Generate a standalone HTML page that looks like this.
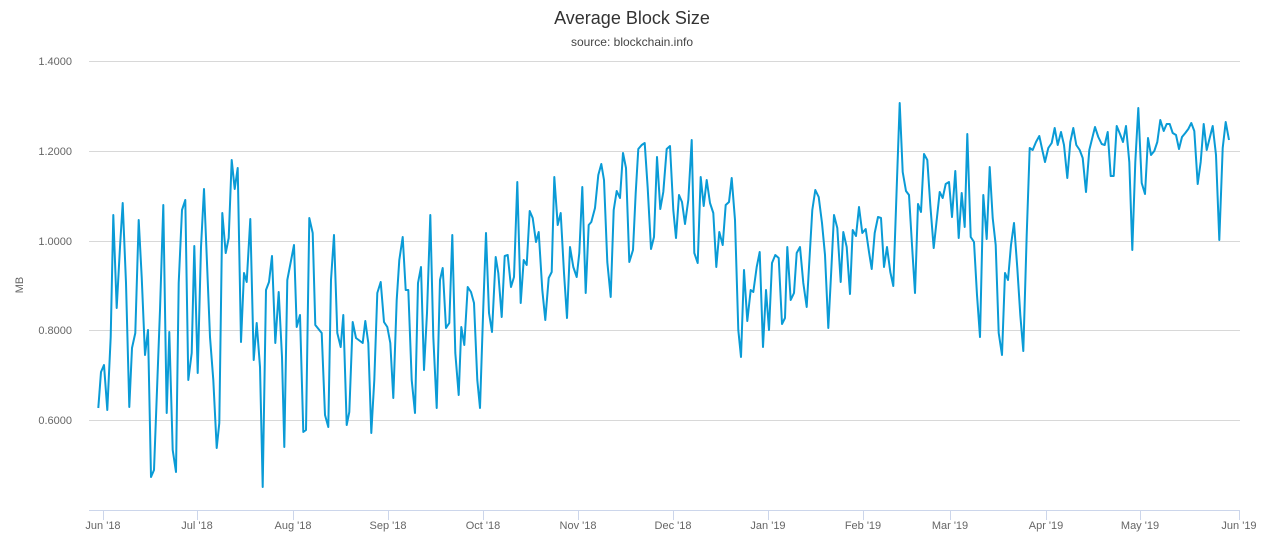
<!DOCTYPE html>
<html><head><meta charset="utf-8"><style>
body{margin:0;background:#fff;}
svg{display:block;font-family:"Liberation Sans",sans-serif;}
</style></head><body>
<svg width="1265" height="550" viewBox="0 0 1265 550">
<text x="632" y="24" text-anchor="middle" font-size="18" fill="#333">Average Block Size</text>
<text x="632" y="46" text-anchor="middle" font-size="12" fill="#444">source: blockchain.info</text>
<g stroke="#d8d8d8" stroke-width="1">
<line x1="89" y1="61.5" x2="1240" y2="61.5"/>
<line x1="89" y1="151.5" x2="1240" y2="151.5"/>
<line x1="89" y1="241.5" x2="1240" y2="241.5"/>
<line x1="89" y1="330.5" x2="1240" y2="330.5"/>
<line x1="89" y1="420.5" x2="1240" y2="420.5"/>
</g>
<line x1="89" y1="510.5" x2="1240" y2="510.5" stroke="#ccd6eb"/>
<g stroke="#ccd6eb">
<line x1="103.5" y1="510" x2="103.5" y2="520"/><line x1="197.5" y1="510" x2="197.5" y2="520"/>
<line x1="293.5" y1="510" x2="293.5" y2="520"/><line x1="388.5" y1="510" x2="388.5" y2="520"/>
<line x1="483.5" y1="510" x2="483.5" y2="520"/><line x1="578.5" y1="510" x2="578.5" y2="520"/>
<line x1="673.5" y1="510" x2="673.5" y2="520"/><line x1="768.5" y1="510" x2="768.5" y2="520"/>
<line x1="863.5" y1="510" x2="863.5" y2="520"/><line x1="950.5" y1="510" x2="950.5" y2="520"/>
<line x1="1046.5" y1="510" x2="1046.5" y2="520"/><line x1="1140.5" y1="510" x2="1140.5" y2="520"/>
<line x1="1239.5" y1="510" x2="1239.5" y2="520"/>
</g>
<g font-size="11" fill="#666" text-anchor="end">
<text x="72" y="65">1.4000</text><text x="72" y="155">1.2000</text><text x="72" y="245">1.0000</text>
<text x="72" y="334">0.8000</text><text x="72" y="424">0.6000</text>
</g>
<text x="23" y="285" font-size="11" fill="#666" text-anchor="middle" transform="rotate(-90 23 285)">MB</text>
<g font-size="11" fill="#666" text-anchor="middle">
<text x="103" y="529">Jun '18</text><text x="197" y="529">Jul '18</text><text x="293" y="529">Aug '18</text>
<text x="388" y="529">Sep '18</text><text x="483" y="529">Oct '18</text><text x="578" y="529">Nov '18</text>
<text x="673" y="529">Dec '18</text><text x="768" y="529">Jan '19</text><text x="863" y="529">Feb '19</text>
<text x="950" y="529">Mar '19</text><text x="1046" y="529">Apr '19</text><text x="1140" y="529">May '19</text>
<text x="1239" y="529">Jun '19</text>
</g>
<polyline fill="none" stroke="#0a9bd6" stroke-width="2" stroke-linejoin="round" points="
98.3,408 101,372 104,365 107.3,410 110.7,337 113.3,215 116.7,308 120,247 122.7,203 126,283 129.3,407 132,348 135.3,333 138.7,220 141.7,277 145,355 148,330 151,477 154,470 160,310 163.3,205 166.7,413 169.3,332 172.7,450 176,472 178.7,283 182,210 185.3,200 188.3,380 191.7,353 194.3,246 197.7,373 201,247 204,189 210,337 213.3,380 216.7,448 219.3,423 222.3,213 225.7,253 228.7,238 231.7,160 234.7,189 237.7,168 241,342 244,273 246.7,282 250.3,219 253.7,360 256.7,323 260,367 262.7,487 266,290 269,282 272,256 275.3,343 278.7,292 282,357 284.3,447
287.3,280 294,245 296.7,327 300,315 303.3,432 306,430 309.3,218 312.7,233 315.3,325 321.7,333 325,415 328.3,427 331,280 334,235 337.3,333 340.7,347 343.3,315 346.7,425 349.3,412 352.7,322 356,338 362.7,343 365.3,321 368.3,343 371.3,433 374.3,380 377.3,293 380.7,282 384,322 387.3,327 390.3,343 393.3,398 396.7,300 399.3,260 402.7,237 405.7,290 408.3,290 411.7,380 415,413 418,283 421,267 424,370 427,313 430.3,215 433.3,337 436.7,408 440,280 442.7,268 446,328 449.3,323 452.3,235 455.3,353 458.7,395 461.3,327 464.3,345 467.7,287 471,292 474,303
477.3,380 480,408 483.3,307 486,233 489,313 492,332 495.7,257 498.3,273 501.7,317 504.7,256 507.7,255 511,287 514,277 517.3,182 520.7,303 523.7,260 526.7,265 529.7,211 532.7,218 536,242 538.7,232 542.3,290 545.3,320 548.7,278 551.7,272 554.3,177 557.7,225 560.7,213 564,273 567,318 570,247 573.3,267 576.7,277 579.3,253 582.3,187 585.7,293 588.7,225 591.3,222 595,208 598.3,175 601.3,164 604,180 607.3,262 610.7,297 613.7,210 616.7,191 620,198 623,153 626,168 629.3,262 633,250 635.7,193 638.3,149 641.7,145 644.7,143 647.7,188 651,249 654,237 657,157 660.3,209 663.3,192 666.7,149 670,146
673.3,210 676,238 679,195 682,202 685,224 688.3,200 691.7,140 694.3,253 697.7,263 700.7,177 703.7,206 706.7,180 710,203 713.3,213 716.3,267 719.3,232 722.7,245 725.7,205 729,202 731.7,178 735,220 738.3,330 741,357 744,270 747.3,321 750.7,290 753.3,292 756.7,267 759.7,252 763,347 766,290 769,330 772,263 775.3,255 778.7,258 782,324 785,318 787.3,247 790.7,300 794,293 796.7,253 800,247 803.3,283 806.7,307 809.7,255 812.3,210 815.3,190 818.7,197 822,223 825,255 828.3,328 831.3,270 834,215 837.3,228 840.7,282 843.3,232 846.7,247 850,294 852.7,230 856,236 859,207
862.3,233 865.7,229 869,252 871.7,269 874.7,233 878,217 881,218 884,267 887,247 890.3,272 893.3,286 896.7,188 899.7,103 902.7,172 906,191 909,195 912,245 915,293 918,204 921,212 924,154 927.3,160 930.3,205 933.7,248 936.7,220 939.7,192 942.7,198 945.7,184 949,182 952,217 955.3,171 958.7,238 961.7,193 964.7,227 967.3,134 970.7,237 974,242 977,295 980,337 983.3,195 986.7,239 989.7,167 992.7,218 995.7,245 998.7,333 1002,355 1005,273 1008,280 1011,245 1014,223 1017.3,268 1020.3,315 1023.3,351 1026.7,235 1029.7,148 1032.7,150 1036,142 1039.3,136
1042.3,150 1045,162 1048.3,148 1051.7,143 1054.7,128 1057.7,145 1061,132 1064,145 1067.3,178 1070.3,142 1073.3,128 1076.3,145 1079.7,150 1082.7,158 1086,192 1089.3,150 1095,127 1098.3,137 1101.7,144 1104.7,145 1107.7,132 1110.7,176 1113.7,176 1116.7,126 1120,134 1123,142 1126,126 1129.3,162 1132.3,250 1135.3,162 1138.3,108 1141.7,183 1145,194 1148,138 1151,155 1154.3,151 1157.3,142 1160.3,120 1163.7,131 1166.7,124 1169.7,124 1172.7,133 1176,135 1179,149 1182,137 1185.3,133 1188.3,129 1191.3,123 1194.3,131 1197.7,184 1200.7,162 1203.7,124 1206.7,150 1209.7,138 1212.7,126 1216,155 1219.3,240 1222.7,148 1225.7,122 1229,140"/>
</svg>
</body></html>
